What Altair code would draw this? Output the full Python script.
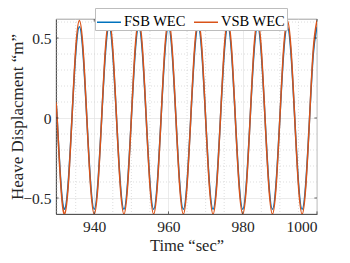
import altair as alt
import pandas as pd

# Time samples (s)
time = [929.7,
        930, 931, 932, 933, 934, 935, 936, 937,
        938, 939, 940, 941, 942, 943, 944, 945,
        946, 947, 948, 949, 950, 951, 952, 953,
        954, 955, 956, 957, 958, 959, 960, 961,
        962, 963, 964, 965, 966, 967, 968, 969,
        970, 971, 972, 973, 974, 975, 976, 977,
        978, 979, 980, 981, 982, 983, 984, 985,
        986, 987, 988, 989, 990, 991, 992, 993,
        994, 995, 996, 997, 998, 999, 1000]

# FSB WEC heave displacement (m)
fsb = [0.09,
       0.00, -0.40, -0.57, -0.40, 0.00, 0.40, 0.57, 0.40,
       0.00, -0.40, -0.57, -0.40, 0.00, 0.40, 0.57, 0.40,
       0.00, -0.40, -0.57, -0.40, 0.00, 0.40, 0.57, 0.40,
       0.00, -0.40, -0.57, -0.40, 0.00, 0.40, 0.57, 0.40,
       0.00, -0.40, -0.57, -0.40, 0.00, 0.40, 0.57, 0.40,
       0.00, -0.40, -0.57, -0.40, 0.00, 0.40, 0.57, 0.40,
       0.00, -0.40, -0.57, -0.40, 0.00, 0.40, 0.57, 0.40,
       0.00, -0.40, -0.57, -0.40, 0.00, 0.40, 0.57, 0.40,
       0.00, -0.40, -0.57, -0.40, 0.00, 0.40, 0.57]

# VSB WEC heave displacement (m)
vsb = [0.095,
       0.00, -0.42, -0.60, -0.42, 0.00, 0.43, 0.61, 0.43,
       0.00, -0.42, -0.60, -0.42, 0.00, 0.43, 0.61, 0.43,
       0.00, -0.42, -0.60, -0.42, 0.00, 0.43, 0.61, 0.43,
       0.00, -0.42, -0.60, -0.42, 0.00, 0.43, 0.61, 0.43,
       0.00, -0.42, -0.60, -0.42, 0.00, 0.43, 0.61, 0.43,
       0.00, -0.42, -0.60, -0.42, 0.00, 0.43, 0.61, 0.43,
       0.00, -0.42, -0.60, -0.42, 0.00, 0.43, 0.61, 0.43,
       0.00, -0.42, -0.60, -0.42, 0.00, 0.43, 0.61, 0.43,
       0.00, -0.42, -0.60, -0.42, 0.00, 0.43, 0.61]

series_names = ["FSB WEC", "VSB WEC"]
series_colors = ["#0072BD", "#D95319"]

x_major = [940, 960, 980, 1000]
x_minor = [930, 935, 945, 950, 955, 965, 970, 975, 985, 990, 995]
y_major = [-0.5, 0, 0.5]
y_minor = [-0.4, -0.3, -0.2, -0.1, 0.1, 0.2, 0.3, 0.4, 0.6]

x_domain = [929.7, 1000]
y_domain = [-0.6, 0.619]

FONT = "Liberation Serif"
W, H = 261, 195

df = pd.DataFrame({
    "t": time + time,
    "v": fsb + vsb,
    "series": [series_names[0]] * len(time) + [series_names[1]] * len(time),
})

xs = alt.Scale(domain=x_domain, nice=False, zero=False)
ys = alt.Scale(domain=y_domain, nice=False, zero=False)

x_axis = alt.Axis(values=x_major, grid=True, ticks=False, labelPadding=5,
                  labelFont=FONT, labelFontSize=15.5, labelBaseline="top",
                  title="Time “sec”", titleBaseline="alphabetic",
                  titleFont=FONT, titleFontSize=16.5,
                  titleX=W / 2, titleY=36, format="d")
y_axis = alt.Axis(values=y_major, grid=True, ticks=False, labelPadding=5,
                  labelFont=FONT, labelFontSize=15.5,
                  title="Heave Displacment “m”", titleBaseline="alphabetic",
                  titleFont=FONT, titleFontSize=17,
                  titleAngle=270, titleX=-34, titleY=H / 2,
                  labelExpr="datum.value == 0 ? '0' : replace(format(datum.value, '.1f'), '-', '\u2212')")

minor_x = alt.Chart(pd.DataFrame({"t": x_minor})).mark_rule(
    color="#d0d0d0", strokeWidth=0.7, strokeDash=[1, 2]
).encode(x=alt.X("t:Q", scale=xs, axis=x_axis))

minor_y = alt.Chart(pd.DataFrame({"v": y_minor})).mark_rule(
    color="#d0d0d0", strokeWidth=0.7, strokeDash=[1, 2]
).encode(y=alt.Y("v:Q", scale=ys, axis=y_axis))

lines = alt.Chart(df).mark_line(strokeWidth=1.5, interpolate="natural", clip=True).encode(
    x=alt.X("t:Q", scale=xs, axis=x_axis),
    y=alt.Y("v:Q", scale=ys, axis=y_axis),
    color=alt.Color(
        "series:N",
        scale=alt.Scale(domain=series_names, range=series_colors),
        legend=alt.Legend(
            orient="none", legendX=39, legendY=-11, direction="horizontal",
            title=None, symbolType="M-1,0L1,0", symbolSize=576, symbolStrokeWidth=1.5,
            labelFont=FONT, labelFontSize=14.5, labelColor="#000000", labelOffset=2,
            columnPadding=5, padding=1, strokeColor="#bdbdbd", fillColor="white",
        ),
    ),
)

tx = pd.DataFrame({"t": x_major})
ty = pd.DataFrame({"v": y_major})
tick_color = "#262626"
ticks_bottom = alt.Chart(tx).mark_rule(color=tick_color, strokeWidth=0.7).encode(
    x=alt.X("t:Q", scale=xs, axis=x_axis), y=alt.value(H), y2=alt.value(H - 2.6))
ticks_top = alt.Chart(tx).mark_rule(color=tick_color, strokeWidth=0.7).encode(
    x=alt.X("t:Q", scale=xs, axis=x_axis), y=alt.value(0), y2=alt.value(2.6))
ticks_left = alt.Chart(ty).mark_rule(color=tick_color, strokeWidth=0.7).encode(
    y=alt.Y("v:Q", scale=ys, axis=y_axis), x=alt.value(0), x2=alt.value(2.6))
ticks_right = alt.Chart(ty).mark_rule(color=tick_color, strokeWidth=0.7).encode(
    y=alt.Y("v:Q", scale=ys, axis=y_axis), x=alt.value(W), x2=alt.value(W - 2.6))

chart = alt.layer(
    minor_x, minor_y, lines, ticks_bottom, ticks_top, ticks_left, ticks_right
).properties(
    width=W, height=H,
    autosize=alt.AutoSizeParams(type="none"),
    padding={"left": 48, "top": 11, "right": 14, "bottom": 40},
).configure_view(
    stroke="#7a7a7a", strokeWidth=0.7
).configure_axis(
    domainColor="#262626", domainWidth=0.7,
    gridColor="#e3e3e3", gridWidth=0.7,
    labelColor="#262626",
    titleColor="#262626", titleFontWeight="normal",
)

chart.save("out.html", embed_options={"renderer": "svg", "actions": False})
